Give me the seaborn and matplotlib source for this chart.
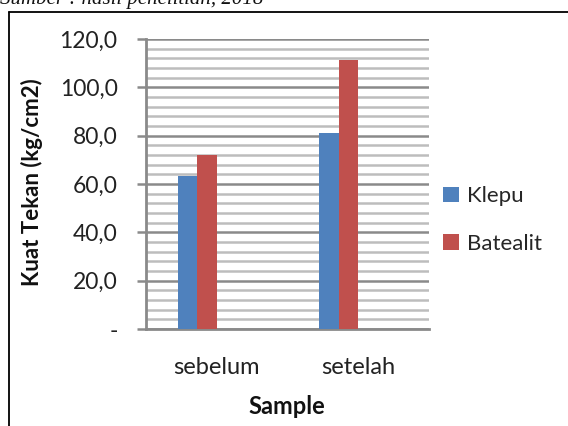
import matplotlib
matplotlib.use("Agg")
import matplotlib.pyplot as plt
from matplotlib.lines import Line2D
from matplotlib.ticker import MultipleLocator, FixedLocator
import seaborn as sns
import pandas as pd

categories = ["sebelum", "setelah"]
klepu = [63.5, 81.0]
batealit = [72.0, 111.5]
series = ["Klepu", "Batealit"]
y_ticks = [0, 20, 40, 60, 80, 100, 120]
y_tick_labels = ["-", "20,0", "40,0", "60,0", "80,0", "100,0", "120,0"]

sns.set_theme(style="white")
plt.rcParams["font.family"] = ["Lato", "DejaVu Sans"]

rows = []
for c, v in zip(categories, klepu):
    rows.append({"Sample": c, "value": v, "series": "Klepu"})
for c, v in zip(categories, batealit):
    rows.append({"Sample": c, "value": v, "series": "Batealit"})
# empty placeholder series (as in the original spreadsheet chart)
for c in categories:
    rows.append({"Sample": c, "value": 0.0, "series": "_e1"})
    rows.append({"Sample": c, "value": 0.0, "series": "_e2"})
df = pd.DataFrame(rows)

W, H = 568, 426
fig = plt.figure(figsize=(W / 100, H / 100), dpi=100)
left, right, top, bottom = 146, 429, 39, 329
ax = fig.add_axes([left / W, 1 - bottom / H, (right - left) / W, (bottom - top) / H])

sns.barplot(data=df, x="Sample", y="value", hue="series",
            hue_order=["Klepu", "Batealit", "_e1", "_e2"],
            palette=["#4F81BD", "#C0504D", "#ffffff", "#ffffff"],
            saturation=1, width=0.55, linewidth=0, errorbar=None, ax=ax,
            zorder=3, order=categories)

ax.set_xlim(-0.5, 1.5)
ax.set_ylim(0, 120)
ax.yaxis.set_major_locator(FixedLocator(y_ticks))
ax.set_yticklabels(y_tick_labels)
ax.yaxis.set_minor_locator(MultipleLocator(4))
ax.grid(False)
ax.set_axisbelow(True)
for yv in range(0, 121, 4):
    if yv % 20 == 0:
        ax.axhline(yv, color="#8a8a8a", lw=1.8, zorder=1)
    else:
        ax.axhline(yv, color="#bdbdbd", lw=1.8, zorder=1)

for s in ["top", "right"]:
    ax.spines[s].set_visible(False)
ax.spines["left"].set_color("#8a8a8a")
ax.spines["left"].set_linewidth(2)
ax.spines["bottom"].set_color("#8a8a8a")
ax.spines["bottom"].set_linewidth(2)

ax.tick_params(axis="y", which="major", length=6.5, width=1.8, color="#8a8a8a",
               labelsize=16.5, labelcolor="#222222", pad=14, left=True)
ax.tick_params(axis="y", which="minor", length=0)
ax.tick_params(axis="x", length=0, labelsize=17, labelcolor="#222222", pad=20)

ax.set_xlabel("")
ax.set_ylabel("")
fig.text(287 / W, 1 - 407 / H, "Sample", ha="center", va="center",
         fontsize=17, fontweight="bold", color="#111111")
fig.text(32 / W, 1 - 182 / H, "Kuat Tekan (kg/cm2)", ha="center", va="center",
         rotation=90, fontsize=16, fontweight="bold", color="#111111")

handles, labels = ax.get_legend_handles_labels()
ax.legend(handles[:2], labels[:2], loc="center left",
          bbox_to_anchor=(423 / W, 1 - 220 / H), bbox_transform=fig.transFigure,
          frameon=False, fontsize=16, handlelength=0.7, handleheight=0.7,
          handletextpad=0.4, labelspacing=1.25)

# chart border (left and top edges visible)
fig.add_artist(Line2D([8.5 / W, 8.5 / W], [0, 1 - 11.5 / H], color="black", lw=1.3,
                      transform=fig.transFigure))
fig.add_artist(Line2D([8.5 / W, 1], [1 - 11.5 / H, 1 - 11.5 / H], color="black", lw=1.3,
                      transform=fig.transFigure))

# cropped caption at the very top
fig.text(0 / W, 1 - 4 / H, "Sumber : hasil penelitian, 2018", ha="left", va="baseline",
         fontsize=15, style="italic", family="Liberation Serif", color="#111111")

fig.savefig("out.png", dpi=100)
